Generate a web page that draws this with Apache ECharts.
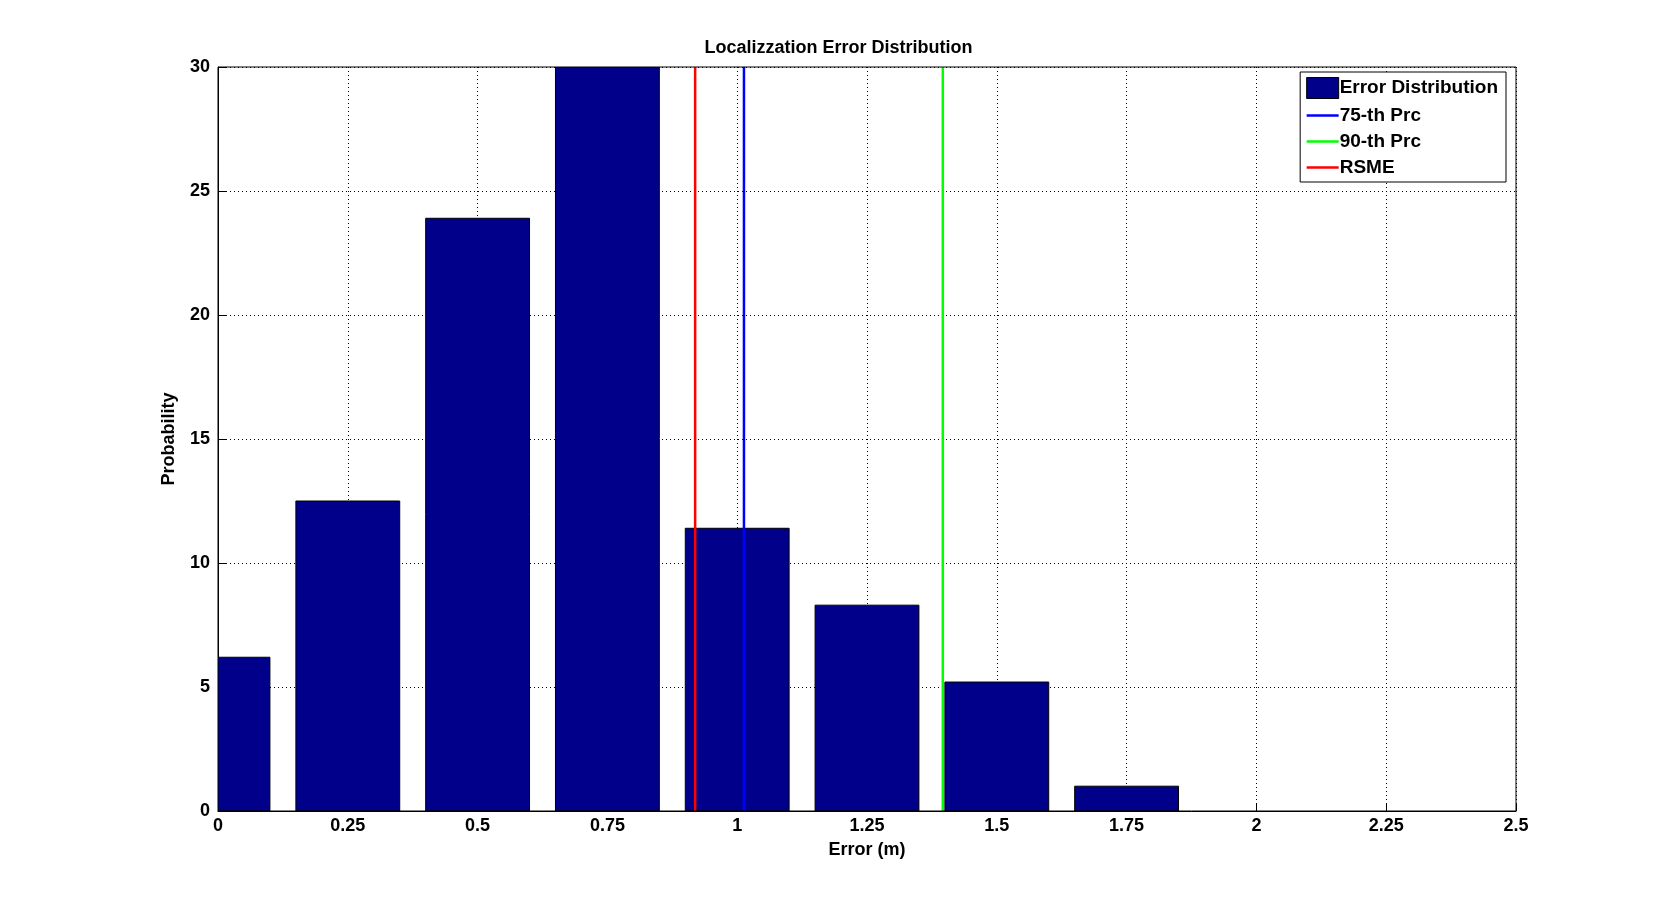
<!DOCTYPE html>
<html lang="en">
<head>
  <meta charset="UTF-8">
  <title>Localizzation Error Distribution</title>
  <style>
    html, body { margin: 0; padding: 0; background: #fff; }
    .chart { width: 1677px; height: 911px; }
  </style>
</head>
<body>
  <div class="chart"></div>
  <script src="https://cdn.jsdelivr.net/npm/echarts@6/dist/echarts.min.js"></script>
  <script>
    // histogram bins (centre, height)
    let binCenters = [0, 0.25, 0.5, 0.75, 1.0, 1.25, 1.5, 1.75];
    let binValues = [6.2, 12.5, 23.9, 31, 11.4, 8.3, 5.2, 1.0];
    let binWidth = 0.2;
    // vertical reference lines
    let prc75 = 1.013;
    let prc90 = 1.396;
    let rsme = 0.919;
    let xTicks = [0, 0.25, 0.5, 0.75, 1, 1.25, 1.5, 1.75, 2, 2.25, 2.5];

    window.onload = function () {
      let myChart = echarts.init(document.querySelector('.chart'));
      let font = 'Liberation Sans, Arial, sans-serif';

      function vline(name, x, color) {
        return {
          name: name,
          type: 'line',
          data: [[x, 0], [x, 30]],
          symbol: 'none',
          lineStyle: { color: color, width: 2.5 },
          itemStyle: { color: color },
          z: 5
        };
      }

      let option = {
        animation: false,
        title: {
          text: 'Localizzation Error Distribution',
          left: 'center',
          top: 34,
          textStyle: { fontFamily: font, fontSize: 18, fontWeight: 'bold', color: '#000' }
        },
        legend: {
          right: 171,
          top: 72,
          orient: 'vertical',
          itemGap: 7,
          itemWidth: 32,
          itemHeight: 21,
          backgroundColor: '#fff',
          borderColor: '#000',
          borderWidth: 1,
          borderRadius: 0,
          padding: [5, 8, 5, 6],
          textStyle: { fontFamily: font, fontSize: 19, fontWeight: 'bold', color: '#000', padding: [0, 0, 0, -4] },
          data: [
            { name: 'Error Distribution', icon: 'rect', itemStyle: { color: '#00008b', borderColor: '#000', borderWidth: 1 } },
            { name: '75-th Prc', icon: 'path://M0,9H32V11.5H0Z' },
            { name: '90-th Prc', icon: 'path://M0,9H32V11.5H0Z' },
            { name: 'RSME', icon: 'path://M0,9H32V11.5H0Z' }
          ]
        },
        grid: { left: 218, right: 161, top: 67, bottom: 100, show: true, borderColor: '#000', borderWidth: 1, z: 10 },
        xAxis: {
          type: 'value',
          min: 0,
          max: 2.5,
          interval: 0.25,
          name: 'Error (m)',
          nameLocation: 'middle',
          nameGap: 30,
          nameTextStyle: { fontFamily: font, fontSize: 18, fontWeight: 'bold', color: '#000' },
          axisLine: { lineStyle: { color: '#000', width: 1 } },
          axisTick: { inside: true, length: 8, lineStyle: { color: '#000' } },
          axisLabel: {
            fontFamily: font, fontSize: 18, fontWeight: 'bold', color: '#000', margin: 6,
            formatter: v => String(xTicks.find(t => Math.abs(t - v) < 1e-9) ?? v)
          },
          splitLine: { show: true, lineStyle: { color: '#000', type: [1, 3], width: 1 } }
        },
        yAxis: {
          type: 'value',
          min: 0,
          max: 30,
          interval: 5,
          name: 'Probability',
          nameLocation: 'middle',
          nameGap: 40,
          nameTextStyle: { fontFamily: font, fontSize: 18, fontWeight: 'bold', color: '#000' },
          axisLine: { show: true, lineStyle: { color: '#000', width: 1 } },
          axisTick: { show: true, inside: true, length: 8, lineStyle: { color: '#000' } },
          axisLabel: { fontFamily: font, fontSize: 18, fontWeight: 'bold', color: '#000', margin: 8 },
          splitLine: { show: true, lineStyle: { color: '#000', type: [1, 3], width: 1 } }
        },
        series: [
          {
            name: 'Error Distribution',
            type: 'custom',
            clip: true,
            itemStyle: { color: '#00008b' },
            data: binCenters.map((c, i) => [c, binValues[i]]),
            renderItem: function (params, api) {
              let c = api.value(0);
              let p0 = api.coord([c - binWidth / 2, api.value(1)]);
              let p1 = api.coord([c + binWidth / 2, 0]);
              return {
                type: 'rect',
                shape: { x: p0[0], y: p0[1], width: p1[0] - p0[0], height: p1[1] - p0[1] },
                style: { fill: '#00008b', stroke: '#000', lineWidth: 1 }
              };
            },
            z: 2
          },
          vline('75-th Prc', prc75, '#0000ff'),
          vline('90-th Prc', prc90, '#00ff00'),
          vline('RSME', rsme, '#ff0000')
        ]
      };
      myChart.setOption(option);
    };
  </script>
</body>
</html>
